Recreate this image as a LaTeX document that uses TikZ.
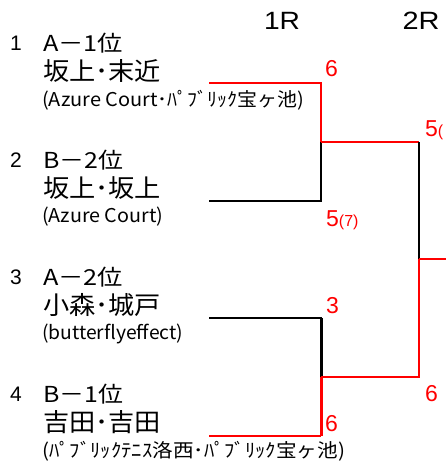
\documentclass[tikz,border=0pt]{standalone}
\usepackage{fontspec}
\setmainfont{Liberation Sans}
\newfontfamily\jp{Noto Sans CJK JP}
\newcommand{\fitw}[2]{\resizebox{#1}{\height}{#2}}
\begin{document}
\begin{tikzpicture}[x=1pt,y=-1pt]
\useasboundingbox (0,0) rectangle (445,468);
\tikzset{
  seed/.style={anchor=center,inner sep=0pt,font=\fontsize{21}{21}\selectfont},
  rank/.style={anchor=west,inner sep=0pt,font=\jp\fontsize{22}{22}\selectfont},
  pname/.style={anchor=west,inner sep=0pt,font=\jp\fontsize{25}{25}\selectfont},
  club/.style={anchor=west,inner sep=0pt,font=\jp\fontsize{19}{19}\selectfont},
  round/.style={anchor=center,inner sep=0pt,font=\fontsize{25}{25}\selectfont},
  score/.style={anchor=west,inner sep=0pt,text=red,font=\fontsize{23}{23}\selectfont},
  win/.style={draw=red,line width=2pt},
  lose/.style={draw=black,line width=2pt},
  win2/.style={draw=red,line width=1.5pt},
  lose2/.style={draw=black,line width=1.5pt},
}
% headers
\node[round] (r1) at (282,21) {\fitw{36pt}{1R}};
\node[round] (r2) at (421,21) {\fitw{37pt}{2R}};
% teams
\node[seed] (s1) at (16,43) {1};
\node[rank] (k1) at (43,43) {\fitw{80pt}{A－1位}};
\node[pname] (n1) at (43,71) {\fitw{118pt}{坂上･末近}};
\node[club] (c1) at (42,100) {\fitw{262pt}{(Azure Court･ﾊﾟﾌﾞﾘｯｸ宝ヶ池)}};
\node[seed] (s2) at (16,160) {2};
\node[rank] (k2) at (43,160) {\fitw{80pt}{B－2位}};
\node[pname] (n2) at (43,188) {\fitw{118pt}{坂上･坂上}};
\node[club] (c2) at (42,217) {\fitw{121pt}{(Azure Court)}};
\node[seed] (s3) at (16,277) {3};
\node[rank] (k3) at (43,277) {\fitw{80pt}{A－2位}};
\node[pname] (n3) at (43,305) {\fitw{118pt}{小森･城戸}};
\node[club] (c3) at (42,334) {\fitw{141pt}{(butterflyeffect)}};
\node[seed] (s4) at (16,394) {4};
\node[rank] (k4) at (43,394) {\fitw{80pt}{B－1位}};
\node[pname] (n4) at (43,422) {\fitw{118pt}{吉田･吉田}};
\node[club] (c4) at (42,451) {\fitw{303pt}{(ﾊﾟﾌﾞﾘｯｸﾃﾆｽ洛西･ﾊﾟﾌﾞﾘｯｸ宝ヶ池)}};
% bracket coordinates
\coordinate (e1) at (209,83);
\coordinate (e2) at (209,201);
\coordinate (e3) at (209,318);
\coordinate (e4) at (209,436);
\coordinate (m1) at (321,142);
\coordinate (m2) at (321,377);
\coordinate (f1) at (419,142);
\coordinate (f2) at (419,259);
\coordinate (f3) at (419,377);
\coordinate (fo) at (446,259);
% 1R match 1
\draw[win] (e1) -| (m1);
\draw[lose] (m1) |- (e2);
% 1R match 2
\draw[lose] (e3) -| (m2);
\draw[lose,line width=3pt] (m2 |- e3) -- (m2);
\draw[win,line width=3pt] (m2) -- (m2 |- e4);
\draw[win] (m2 |- e4) -- (e4);
% 2R
\draw[win2] (m1) -- (f1);
\draw[lose2] (f1) -- (f2);
\draw[win2] (f2) -- (f3) -- (m2);
\draw[win2] (f2) -- (fo);
% scores
\node[score] (sc1) at (325,69) {6};
\node[score] (sc2) at (326,220) {5{\fontsize{16}{16}\selectfont(7)}};
\node[score] (sc3) at (326,306) {3};
\node[score] (sc4) at (325,424) {6};
\node[score] (sc5) at (425,130) {5{\fontsize{16}{16}\selectfont(}};
\node[score] (sc6) at (425,394) {6};
\end{tikzpicture}
\end{document}
